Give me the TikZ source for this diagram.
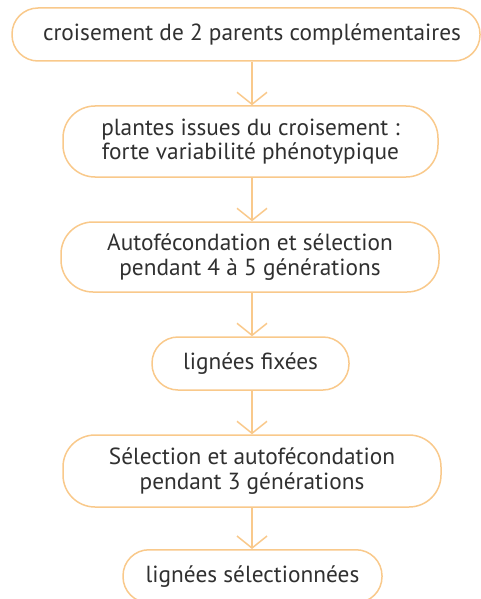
\documentclass[tikz,border=0pt]{standalone}
\usepackage{fontspec}
\setmainfont{PT Sans}
\usetikzlibrary{arrows.meta}
\definecolor{boxorange}{HTML}{F9C98B}
\definecolor{txtgray}{HTML}{303030}
\begin{document}
\begin{tikzpicture}[x=1pt,y=-1pt,
  stepbox/.style={draw=boxorange, line width=1.5pt, fill=white, text=txtgray,
    align=center, inner sep=0pt, font=\fontsize{23.3}{24.5}\selectfont},
  flow/.style={draw=boxorange, line width=1.5pt, -{Straight Barb[length=12pt,width=30pt]}}]
\useasboundingbox (0,0) rectangle (481,599);
\node[stepbox, minimum width=468pt, minimum height=53pt, rounded corners=26pt] (b1) at (246,34.5)
  {\hspace*{12pt}croisement de 2 parents complémentaires};
\node[stepbox, minimum width=375pt, minimum height=71pt, rounded corners=32pt] (b2) at (250.5,141.5)
  {plantes issues du croisement :\\forte variabilité phénotypique};
\node[stepbox, minimum width=378pt, minimum height=70pt, rounded corners=32pt] (b3) at (250,257)
  {Autofécondation et sélection\\pendant 4 à 5 générations};
\node[stepbox, minimum width=197pt, minimum height=53pt, rounded corners=26pt] (b4) at (250.5,363.5)
  {lignées fixées};
\node[stepbox, minimum width=378pt, minimum height=72pt, rounded corners=32pt] (b5) at (252,471)
  {Sélection et autofécondation\\pendant 3 générations};
\node[stepbox, minimum width=259pt, minimum height=53pt, rounded corners=26pt, anchor=north] (b6) at (252.5,549)
  {lignées sélectionnées};
\coordinate (ax) at (252,0);
\draw[flow] (b1.south -| ax) -- (b2.north -| ax);
\draw[flow] (b2.south -| ax) -- (b3.north -| ax);
\draw[flow] (b3.south -| ax) -- (b4.north -| ax);
\draw[flow] (b4.south -| ax) -- (b5.north -| ax);
\draw[flow] (b5.south -| ax) -- (b6.north -| ax);
\end{tikzpicture}
\end{document}
